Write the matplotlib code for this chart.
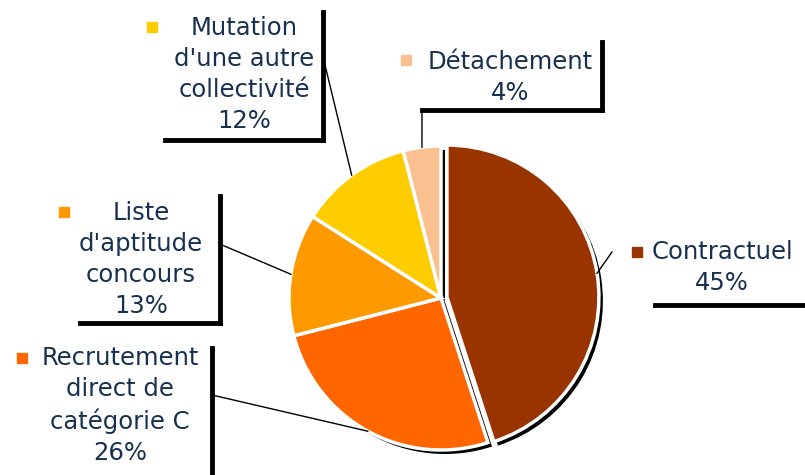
import numpy as np
import matplotlib.pyplot as plt
from matplotlib.patches import Rectangle

labels = ["Contractuel", "Recrutement\ndirect de\ncatégorie C", "Liste\nd'aptitude\nconcours",
          "Mutation\nd'une autre\ncollectivité", "Détachement"]
values = [45, 26, 13, 12, 4]
colors = ["#993300", "#FF6600", "#FF9900", "#FFCC00", "#FAC090"]

W, H = 805, 475
fig = plt.figure(figsize=(W / 100, H / 100), dpi=100)
ax = fig.add_axes([0, 0, 1, 1])

cx, cy, r = 441, H - 298, 152
explode = [6, 0, 0, 0, 0]  # en pixels (unites de donnees)

# ombre noire decalee
ax.pie(values, colors=["black"] * 5, radius=r, center=(cx + 4, cy - 4), startangle=90,
       counterclock=False, explode=explode, frame=True, wedgeprops=dict(linewidth=0))
ax.pie(values, colors=colors, radius=r, center=(cx, cy), startangle=90,
       counterclock=False, explode=explode, frame=True,
       wedgeprops=dict(edgecolor="white", linewidth=2.5))
ax.set_xlim(0, W)
ax.set_ylim(0, H)
ax.set_aspect("equal")
ax.axis("off")

# position des etiquettes en pixels (y depuis le haut)
boxes = [
    dict(tx=722, ty=252, right=None, top=None, bottom=305, left=655, mx=637, my=252, ax_=612, ay=252),
    dict(tx=120, ty=358, right=212, top=348, bottom=None, left=None, mx=22, my=358, ax_=212, ay=395),
    dict(tx=141, ty=213, right=220, top=196, bottom=323, left=80, mx=64, my=212, ax_=222, ay=245),
    dict(tx=244, ty=28, right=323, top=12, bottom=140, left=165, mx=152, my=27, ax_=325, ay=65),
    dict(tx=510, ty=62, right=602, top=42, bottom=110, left=422, mx=406, my=60, ax_=422, ay=110),
]

total = sum(values)
start = 0
for lab, v, c, b, ex in zip(labels, values, colors, boxes, explode):
    mid = np.radians(start + v / total * 360 / 2)
    start += v / total * 360
    ox = cx + np.sin(mid) * (r + ex)
    oy = cy + np.cos(mid) * (r + ex)
    ax.plot([b["ax_"], ox], [H - b["ay"], oy], color="black", lw=1, zorder=1)

    txt = lab + "\n" + f"{v}%"
    ax.text(b["tx"], H - b["ty"] + 12, txt, ha="center", va="top", fontsize=17.5,
            color="#18304F", linespacing=1.36, zorder=4)
    ax.add_patch(Rectangle((b["mx"] - 5, H - b["my"] - 5), 10, 10, color=c, zorder=4))

    if b["right"] is not None:
        bot = b["bottom"] if b["bottom"] is not None else H + 10
        ax.plot([b["right"], b["right"]], [H - b["top"], H - bot], color="black", lw=3.5,
                solid_capstyle="projecting", zorder=3)
    if b["bottom"] is not None:
        rt = b["right"] if b["right"] is not None else W + 10
        ax.plot([b["left"], rt], [H - b["bottom"], H - b["bottom"]], color="black", lw=3.5,
                solid_capstyle="projecting", zorder=3)

fig.savefig("out.png", dpi=100)
